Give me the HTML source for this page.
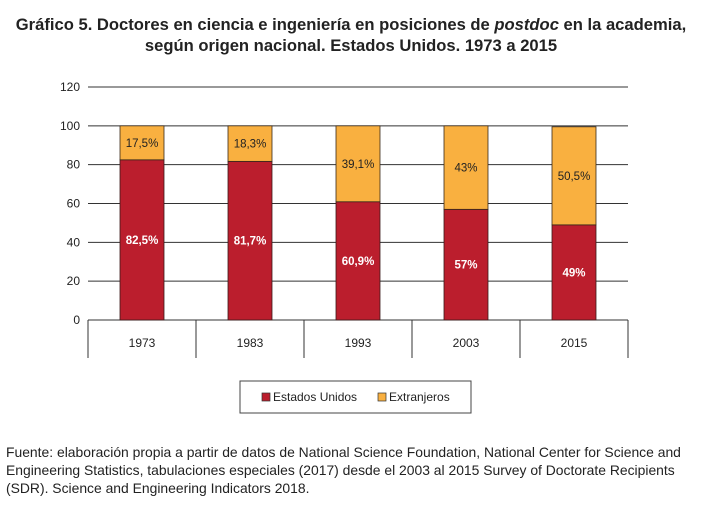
<!DOCTYPE html>
<html><head><meta charset="utf-8"><style>
body{margin:0;background:#fff;width:702px;height:508px;overflow:hidden;font-family:"Liberation Sans",sans-serif}
.t{position:absolute;left:0;width:702px;text-align:center;font-weight:bold;font-size:16.6px;color:#222;white-space:nowrap}
.f{position:absolute;left:6px;top:443px;font-size:13.9px;line-height:18px;color:#222;width:700px;white-space:nowrap}
</style></head><body>
<div class="t" style="top:15px">Gráfico 5. Doctores en ciencia e ingeniería en posiciones de <i>postdoc</i> en la academia,</div>
<div class="t" style="top:36px">según origen nacional. Estados Unidos. 1973 a 2015</div>
<svg id="c" width="702" height="508" style="position:absolute;left:0;top:0" font-family="Liberation Sans, sans-serif"></svg>
<div class="f">Fuente: elaboración propia a partir de datos de National Science Foundation, National Center for Science and<br>Engineering Statistics, tabulaciones especiales (2017) desde el 2003 al 2015 Survey of Doctorate Recipients<br>(SDR). Science and Engineering Indicators 2018.</div>
<script>
const categories=["1973","1983","1993","2003","2015"];
const usValues=[82.5,81.7,60.9,57,49];
const foreignValues=[17.5,18.3,39.1,43,50.5];
const usLabels=["82,5%","81,7%","60,9%","57%","49%"];
const foreignLabels=["17,5%","18,3%","39,1%","43%","50,5%"];
const yTicks=[0,20,40,60,80,100,120];
const NS="http://www.w3.org/2000/svg",svg=document.getElementById('c');
const x0=88,x1=628,y0=320,y1=87;
const y=v=>y0-(v/120)*(y0-y1);
const bw=(x1-x0)/categories.length;
const xc=i=>x0+bw*(i+0.5);
function mk(t,a,txt){const e=document.createElementNS(NS,t);for(const k in a)e.setAttribute(k,a[k]);if(txt!=null)e.textContent=txt;svg.appendChild(e);return e;}
yTicks.forEach(v=>{
 const l=mk('line',{x1:x0,x2:x1,y1:y(v),y2:y(v),stroke:'#333','stroke-width':1});
 
 const t=mk('text',{x:80,y:y(v)+4,'text-anchor':'end','font-size':12,fill:'#222'},String(v));
 
});
for(let i=0;i<=categories.length;i++){
 const l=mk('line',{x1:x0+bw*i,x2:x0+bw*i,y1:y0,y2:358,stroke:'#333','stroke-width':1});
 
}
categories.forEach((c,i)=>{
 const w=44,bx=xc(i)-w/2;
 const r=mk('rect',{x:bx,y:y(usValues[i]),width:w,height:y0-y(usValues[i]),fill:'#bb1e2d',stroke:'#3a1a1a','stroke-width':0.8});
 
 const tot=usValues[i]+foreignValues[i];
 const o=mk('rect',{x:bx,y:y(tot),width:w,height:y(usValues[i])-y(tot),fill:'#f9b040',stroke:'#3a2a1a','stroke-width':0.8});
 
 const t1=mk('text',{x:xc(i),y:y(usValues[i]/2)+4,'text-anchor':'middle','font-size':11.5,'font-weight':'bold',fill:'#fff'},usLabels[i]);
 
 const t2=mk('text',{x:xc(i),y:y(usValues[i]+foreignValues[i]/2)+4,'text-anchor':'middle','font-size':11.5,fill:'#222'},foreignLabels[i]);
 
 const tx=mk('text',{x:xc(i),y:347,'text-anchor':'middle','font-size':12,fill:'#222'},c);
 
});
const lg=mk('rect',{x:240,y:381,width:231,height:32,fill:'#fff',stroke:'#444'});

const s1=mk('rect',{x:262,y:393,width:8,height:8,fill:'#bb1e2d',stroke:'#333','stroke-width':0.7});

const l1=mk('text',{x:273,y:401,'font-size':12,fill:'#222'},'Estados Unidos');

const s2=mk('rect',{x:378,y:393,width:8,height:8,fill:'#f9b040',stroke:'#333','stroke-width':0.7});

const l2=mk('text',{x:389,y:401,'font-size':12,fill:'#222'},'Extranjeros');

</script>
</body></html>
